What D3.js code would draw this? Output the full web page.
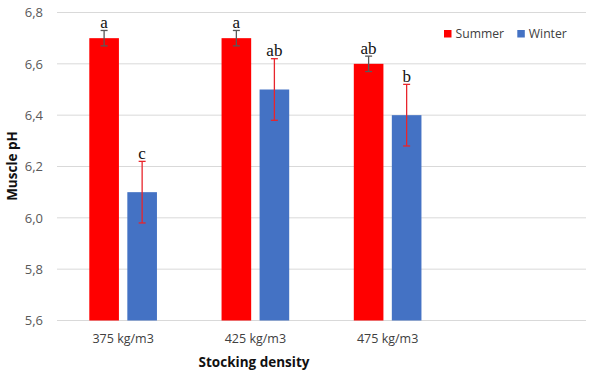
<html>
<head>
  <meta charset="utf-8">
  <title>Muscle pH</title>
  <script src="https://cdn.jsdelivr.net/npm/d3@7"></script>
  <style>
    body { margin: 0; background: #fff; }
    text { font-family: "Open Sans", sans-serif; }
    text.letter { font-family: "Liberation Serif", serif; }
  </style>
</head>
<body>
<div id="chart"></div>
<script>
  // data
  var categories = ["375 kg/m3", "425 kg/m3", "475 kg/m3", ""];
  var seasons = ["Summer", "Winter"];
  var summer = [6.7, 6.7, 6.6];
  var winter = [6.1, 6.5, 6.4];
  var summerErr = [0.03, 0.03, 0.03];
  var winterErr = [0.12, 0.12, 0.12];
  var summerLetters = ["a", "a", "ab"];
  var winterLetters = ["c", "ab", "b"];
  var yTicks = [5.6, 5.8, 6.0, 6.2, 6.4, 6.6, 6.8];

  var colors = { Summer: "#FF0000", Winter: "#4472C4" };
  var errColors = { Summer: "#595959", Winter: "#E8252B" };

  var width = 590, height = 378;
  var plotLeft = 57, plotRight = 586, plotTop = 12.5, plotBottom = 320.5;

  var svg = d3.select("#chart").append("svg")
      .attr("width", width)
      .attr("height", height);

  var x0 = d3.scaleBand().domain(categories).range([plotLeft, plotRight]).padding(0);
  var x1 = d3.scaleBand().domain(seasons)
      .range([32.3, x0.bandwidth() - 32.3])
      .paddingInner(0.221).paddingOuter(0);
  var y = d3.scaleLinear().domain([5.6, 6.8]).range([plotBottom, plotTop]);

  // gridlines
  svg.append("g").selectAll("line").data(yTicks).enter().append("line")
      .attr("x1", plotLeft).attr("x2", plotRight)
      .attr("y1", function(d){ return y(d); })
      .attr("y2", function(d){ return y(d); })
      .attr("stroke", "#D9D9D9").attr("stroke-width", 1);

  // y axis
  var yAxis = d3.axisLeft(y).tickValues(yTicks).tickSize(0).tickPadding(14)
      .tickFormat(function(d){ return d3.format(".1f")(d).replace(".", ","); });
  var gy = svg.append("g").attr("transform", "translate(" + plotLeft + ",0)").call(yAxis);
  gy.select(".domain").remove();
  gy.selectAll("text").attr("font-size", 13).attr("fill", "#595959");

  // x axis
  var xAxis = d3.axisBottom(x0).tickSize(0).tickPadding(14);
  var gx = svg.append("g").attr("transform", "translate(0," + plotBottom + ")").call(xAxis);
  gx.select(".domain").remove();
  gx.selectAll("text").attr("font-size", 12.5).attr("fill", "#404040");

  var rows = [];
  for (var i = 0; i < 3; i++) {
    rows.push({ cat: categories[i], season: "Summer", v: summer[i], e: summerErr[i], l: summerLetters[i] });
    rows.push({ cat: categories[i], season: "Winter", v: winter[i], e: winterErr[i], l: winterLetters[i] });
  }
  function cx(d){ return x0(d.cat) + x1(d.season) + x1.bandwidth() / 2; }

  // bars
  svg.append("g").selectAll("rect").data(rows).enter().append("rect")
      .attr("x", function(d){ return x0(d.cat) + x1(d.season); })
      .attr("y", function(d){ return y(d.v); })
      .attr("width", x1.bandwidth())
      .attr("height", function(d){ return plotBottom - y(d.v); })
      .attr("fill", function(d){ return colors[d.season]; });

  // error bars
  var eb = svg.append("g").selectAll("g").data(rows).enter().append("g")
      .attr("stroke", function(d){ return errColors[d.season]; })
      .attr("stroke-width", 1.3);
  eb.append("line")
      .attr("x1", cx).attr("x2", cx)
      .attr("y1", function(d){ return y(d.v + d.e); })
      .attr("y2", function(d){ return y(d.v - d.e); });
  eb.append("line")
      .attr("x1", function(d){ return cx(d) - 3.5; }).attr("x2", function(d){ return cx(d) + 3.5; })
      .attr("y1", function(d){ return y(d.v + d.e); }).attr("y2", function(d){ return y(d.v + d.e); });
  eb.append("line")
      .attr("x1", function(d){ return cx(d) - 3.5; }).attr("x2", function(d){ return cx(d) + 3.5; })
      .attr("y1", function(d){ return y(d.v - d.e); }).attr("y2", function(d){ return y(d.v - d.e); });

  // significance letters
  svg.append("g").selectAll("text").data(rows).enter().append("text")
      .attr("class", "letter")
      .attr("x", cx)
      .attr("y", function(d){ return y(d.v + d.e) - 2.5; })
      .attr("text-anchor", "middle")
      .attr("font-size", 17)
      .attr("fill", "#111")
      .text(function(d){ return d.l; });

  // axis titles
  svg.append("text")
      .attr("x", 254).attr("y", 366.5)
      .attr("text-anchor", "middle")
      .attr("font-size", 13.5).attr("font-weight", "bold").attr("fill", "#111")
      .text("Stocking density");
  svg.append("text")
      .attr("transform", "translate(16.5,166) rotate(-90)")
      .attr("text-anchor", "middle")
      .attr("font-size", 13.5).attr("font-weight", "bold").attr("fill", "#111")
      .text("Muscle pH");

  // legend
  var legX = [444, 517.3];
  var lg = svg.append("g").selectAll("g").data(seasons).enter().append("g")
      .attr("transform", function(d, i){ return "translate(" + legX[i] + ",30)"; });
  lg.append("rect").attr("width", 7.5).attr("height", 7.5)
      .attr("fill", function(d){ return colors[d]; });
  lg.append("text").attr("x", 11.5).attr("y", 8)
      .attr("font-size", 12.2).attr("fill", "#404040")
      .text(function(d){ return d; });
</script>
</body>
</html>
